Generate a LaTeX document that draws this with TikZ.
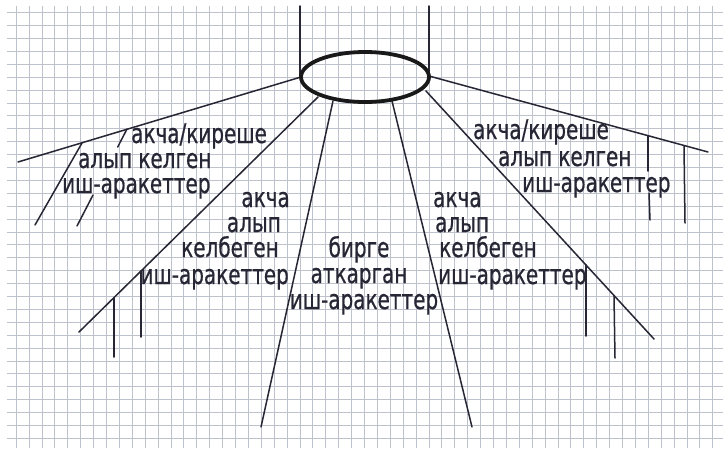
\documentclass[tikz,border=0pt]{standalone}
\usepackage{fontspec}
\usetikzlibrary{shapes.geometric}
\newfontfamily\hand[FakeStretch=0.74,FakeBold=0.6]{DejaVu Sans}
\definecolor{ink}{RGB}{38,38,52}
\definecolor{gridc}{RGB}{190,194,204}
\begin{document}
\begin{tikzpicture}[x=1pt,y=-1pt,
  spoke/.style={draw=ink, line width=1.5pt, line cap=round},
  gridline/.style={draw=gridc, line width=0.6pt},
  lbl/.style={anchor=base west, inner sep=0pt, text=ink, text height=15pt, text depth=4pt, font={\hand\fontsize{27}{27}\selectfont}},
  lble/.style={lbl, anchor=base east},
  lblc/.style={lbl, anchor=base},
  hubstyle/.style={draw=black!90, line width=3.8pt, ellipse, minimum width=128pt, minimum height=50pt, inner sep=0pt}]
\useasboundingbox (0,0) rectangle (723,448);
\fill[white] (0,0) rectangle (723,448);
% grid paper
\foreach \i in {0,...,54} \draw[gridline] ({16+12.9*\i},6) -- ({16+12.9*\i},448);
\foreach \j in {0,...,33} \draw[gridline] (7,{12.5+12.9*\j}) -- (723,{12.5+12.9*\j});
% coordinates
\coordinate (tL) at (300,6);
\coordinate (tR) at (429,6);
\coordinate (eL) at (301,77);
\coordinate (eR) at (429,76);
\coordinate (eLv) at (300,77);
\coordinate (eRv) at (429,75);
\coordinate (eIL) at (318,97);
\coordinate (eCL) at (333,101);
\coordinate (eCR) at (392,101);
\coordinate (eIR) at (426,91);
\coordinate (pL) at (18,162);
\coordinate (pR) at (708,152);
\coordinate (pIL) at (79,332);
\coordinate (pCL) at (261,427);
\coordinate (pCR) at (472,427);
\coordinate (pIR) at (654,339);
% spokes
\draw[spoke] (tL) -- (eLv);
\draw[spoke] (tR) -- (eRv);
\draw[spoke] (eL) -- (pL);
\draw[spoke] (eR) -- (pR);
\draw[spoke] (eIL) -- (pIL);
\draw[spoke] (eCL) -- (pCL);
\draw[spoke] (eCR) -- (pCR);
\draw[spoke] (eIR) -- (pIR);
% ticks on left main line
\coordinate (a1) at (82,143); \coordinate (a2) at (35,225);
\draw[spoke] (a1) -- (a2);
\coordinate (b1) at (127,129); \coordinate (b2) at (117.7,147);
\coordinate (b3) at (93,195); \coordinate (b4) at (77,226);
\draw[spoke] (b1) -- (b2);
\draw[spoke] (b3) -- (b4);
% ticks on inner left line
\coordinate (c1) at (141,271); \coordinate (c2) at (141,337);
\coordinate (d1) at (114,298); \coordinate (d2) at (114,357);
\draw[spoke] (c1) -- (c2);
\draw[spoke] (d1) -- (d2);
% ticks on inner right line
\coordinate (e1) at (586,265); \coordinate (e2) at (586,336);
\coordinate (f1) at (614,296); \coordinate (f2) at (615,358);
\draw[spoke] (e1) -- (e2);
\draw[spoke] (f1) -- (f2);
% ticks on right main line
\coordinate (g1) at (648,136); \coordinate (g2) at (648,171);
\coordinate (g3) at (649,193); \coordinate (g4) at (650,220);
\coordinate (h1) at (684,146); \coordinate (h2) at (685,223);
\draw[spoke] (g1) -- (g2);
\draw[spoke] (g3) -- (g4);
\draw[spoke] (h1) -- (h2);
% hub
\node[hubstyle] (hub) at (365,77) {};
% left top block
\node[lbl] (l1) at (131,143) {акча/киреше};
\node[lbl] (l2) at (78,168) {алып келген};
\node[lbl] (l3) at (62,193) {иш-аракеттер};
% right top block
\node[lbl] (r1) at (473,139) {акча/киреше};
\node[lbl] (r2) at (498,166) {алып келген};
\node[lbl] (r3) at (522,192) {иш-аракеттер};
% inner left block
\node[lble] (il1) at (290,207) {акча};
\node[lble] (il2) at (281,232) {алып};
\node[lble] (il3) at (279,257) {келбеген};
\node[lble] (il4) at (289,284) {иш-аракеттер};
% center block
\node[lblc] (c1t) at (359,257) {бирге};
\node[lblc] (c2t) at (359,283) {аткарган};
\node[lblc] (c3t) at (364,309) {иш-аракеттер};
% inner right block
\node[lbl] (ir1) at (433,207) {акча};
\node[lbl] (ir2) at (435,232) {алып};
\node[lbl] (ir3) at (439,257) {келбеген};
\node[lbl] (ir4) at (438,284) {иш-аракеттер};
\end{tikzpicture}
\end{document}
